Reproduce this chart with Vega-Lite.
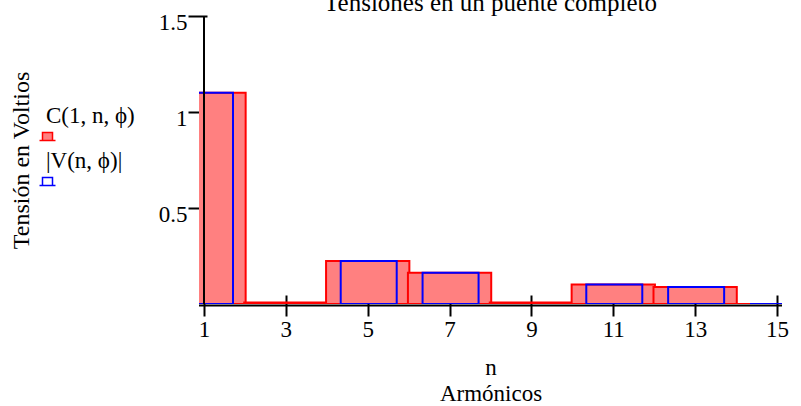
{
  "$schema": "https://vega.github.io/schema/vega-lite/v6.json",
  "width": 583,
  "height": 288,
  "autosize": {"type": "none"},
  "padding": {"left": 199, "top": 16, "right": 19, "bottom": 102},
  "background": "white",
  "config": {"view": {"stroke": null}},
  "title": {
    "text": "Tensiones en un puente completo",
    "font": "Liberation Serif, Times New Roman, Times, serif",
    "fontSize": 25,
    "fontWeight": "normal",
    "color": "black",
    "anchor": "middle",
    "baseline": "alphabetic",
    "offset": -25
  },
  "datasets": {
    "armonicos": [
      {"serie": "C(1, n, ϕ)", "n": 1, "tension": 1.1},
      {"serie": "C(1, n, ϕ)", "n": 3, "tension": 0.008},
      {"serie": "C(1, n, ϕ)", "n": 5, "tension": 0.224},
      {"serie": "C(1, n, ϕ)", "n": 7, "tension": 0.163},
      {"serie": "C(1, n, ϕ)", "n": 9, "tension": 0.008},
      {"serie": "C(1, n, ϕ)", "n": 11, "tension": 0.101},
      {"serie": "C(1, n, ϕ)", "n": 13, "tension": 0.089},
      {"serie": "C(1, n, ϕ)", "n": 15, "tension": 0},
      {"serie": "|V(n, ϕ)|", "n": 1, "tension": 1.1},
      {"serie": "|V(n, ϕ)|", "n": 5, "tension": 0.224},
      {"serie": "|V(n, ϕ)|", "n": 7, "tension": 0.163},
      {"serie": "|V(n, ϕ)|", "n": 11, "tension": 0.101},
      {"serie": "|V(n, ϕ)|", "n": 13, "tension": 0.089},
      {"serie": "|V(n, ϕ)|", "n": 15, "tension": 0}
    ]
  },
  "data": {"name": "armonicos"},
  "layer": [
    {
      "data": {"values": [{}]},
      "mark": {"type": "rule", "color": "black", "strokeWidth": 2, "yOffset": 1.5},
      "encoding": {"y": {"datum": 0}}
    },
    {
      "transform": [{"filter": "datum.serie === 'C(1, n, ϕ)'"}],
      "mark": {"type": "bar", "width": 83.3, "fillOpacity": 1, "strokeWidth": 2, "clip": true},
      "encoding": {
        "x": {
          "field": "n", "type": "quantitative",
          "scale": {"domain": [1, 15], "nice": false, "zero": false},
          "axis": {
            "values": [1, 3, 5, 7, 9, 11, 13, 15],
            "domain": false, "grid": false,
            "offset": -9, "tickSize": 21, "tickWidth": 2, "tickColor": "black",
            "labelFont": "Liberation Serif, Times New Roman, Times, serif", "labelFontSize": 23, "labelColor": "black",
            "labelPadding": 20, "labelBaseline": "alphabetic", "labelFlush": false, "labelOverlap": false,
            "title": ["n", "Armónicos"],
            "titleFont": "Liberation Serif, Times New Roman, Times, serif", "titleFontSize": 23, "titleFontWeight": "normal", "titleColor": "black",
            "titleLineHeight": 26, "titleBaseline": "alphabetic", "titlePadding": 33
          }
        },
        "y": {
          "field": "tension", "type": "quantitative",
          "scale": {"domain": [0, 1.5], "nice": false},
          "axis": {
            "values": [0.5, 1, 1.5], "format": "~g",
            "domain": false, "grid": false,
            "offset": -8, "tickSize": 19, "tickWidth": 2, "tickColor": "black",
            "labelFont": "Liberation Serif, Times New Roman, Times, serif", "labelFontSize": 23, "labelColor": "black",
            "labelPadding": 1, "labelBaseline": "alphabetic", "labelOffset": 13, "labelFlush": false, "labelOverlap": false,
            "title": "Tensión en Voltios",
            "titleFont": "Liberation Serif, Times New Roman, Times, serif", "titleFontSize": 24, "titleFontWeight": "normal", "titleColor": "black",
            "titleBaseline": "alphabetic", "titlePadding": 130
          }
        },
        "fill": {
          "field": "serie", "type": "nominal",
          "scale": {"domain": ["C(1, n, ϕ)", "|V(n, ϕ)|"], "range": ["#ff8080", "transparent"]},
          "legend": {
            "orient": "none", "legendX": -163, "legendY": 95,
            "title": null, "padding": 0, "rowPadding": 5,
            "labelFont": "Liberation Serif, Times New Roman, Times, serif", "labelFontSize": 23, "labelColor": "black",
            "labelOffset": -13, "labelBaseline": "alphabetic",
            "symbolSize": 256, "symbolStrokeWidth": 1.5, "symbolOpacity": 1,
            "symbolType": "M-0.625,2.25V1.25H0.625V2.25Z M-1,2.25H1"
          }
        },
        "stroke": {
          "field": "serie", "type": "nominal",
          "scale": {"domain": ["C(1, n, ϕ)", "|V(n, ϕ)|"], "range": ["#ff0000", "#0000ff"]},
          "legend": {
            "orient": "none", "legendX": -163, "legendY": 95,
            "title": null, "padding": 0, "rowPadding": 5,
            "labelFont": "Liberation Serif, Times New Roman, Times, serif", "labelFontSize": 23, "labelColor": "black",
            "labelOffset": -13, "labelBaseline": "alphabetic",
            "symbolSize": 256, "symbolStrokeWidth": 1.5, "symbolOpacity": 1,
            "symbolType": "M-0.625,2.25V1.25H0.625V2.25Z M-1,2.25H1"
          }
        }
      }
    },
    {
      "transform": [{"filter": "datum.serie === '|V(n, ϕ)|'"}],
      "mark": {"type": "bar", "width": 56, "xOffset": 1, "fill": "transparent", "stroke": "#0000ff", "strokeWidth": 2, "clip": true},
      "encoding": {
        "x": {"field": "n", "type": "quantitative"},
        "y": {"field": "tension", "type": "quantitative"}
      }
    },
    {
      "data": {"values": [{}]},
      "mark": {"type": "rule", "color": "black", "strokeWidth": 2},
      "encoding": {"x": {"datum": 1}}
    }
  ]
}
